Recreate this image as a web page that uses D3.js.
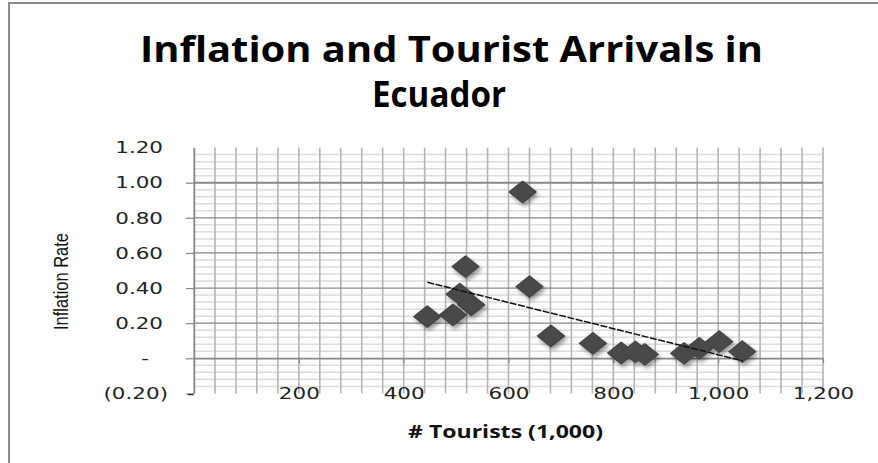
<!DOCTYPE html>
<html>
<head>
<meta charset="utf-8">
<script src="https://cdn.jsdelivr.net/npm/d3@7"></script>
<style>
  html, body { margin: 0; padding: 0; background: #fff; }
  svg { display: block; }
</style>
</head>
<body>
<svg id="chart" width="878" height="463"></svg>
<script>
// Tourist arrivals (thousands) and inflation rate, one pair per year
const tourists  = [445, 494, 507, 518, 529, 627, 640, 681, 761, 815, 842, 860, 935, 964, 1002, 1046];
const inflation = [0.237, 0.247, 0.365, 0.522, 0.304, 0.947, 0.408, 0.127, 0.085, 0.030, 0.036, 0.022, 0.028, 0.057, 0.095, 0.038];

const xTicks = [0, 200, 400, 600, 800, 1000, 1200];
const yTicks = [-0.2, 0, 0.2, 0.4, 0.6, 0.8, 1.0, 1.2];
const xMinorStep = 40;
const yMinorStep = 0.04;

const titleLines = ["Inflation and Tourist Arrivals in", "Ecuador"];
const xTitle = "# Tourists (1,000)";
const yTitle = "Inflation Rate";

const svg = d3.select("#chart");

const x = d3.scaleLinear().domain([0, 1200]).range([194, 823]);
const y = d3.scaleLinear().domain([-0.2, 1.2]).range([393.4, 147.6]);

// accounting-style number formats: zero as a dash, negatives in parentheses
const fmtY = v => Math.abs(v) < 1e-9 ? "-" : (v < 0 ? "(" + d3.format(".2f")(-v) + ")" : d3.format(".2f")(v));
const fmtX = v => v === 0 ? "-" : d3.format(",")(v);

// stretch a text element horizontally by a factor, keeping its anchor
function stretch(sel, k) {
  sel.each(function () {
    const w = this.getComputedTextLength();
    d3.select(this).attr("textLength", w * k).attr("lengthAdjust", "spacingAndGlyphs");
  });
}

// outer chart frame
svg.append("path")
  .attr("d", "M9,463V3H878")
  .attr("fill", "none").attr("stroke", "#8c8c8c").attr("stroke-width", 2);

const defs = svg.append("defs");
const shadow = defs.append("filter").attr("id", "shadow")
  .attr("x", "-50%").attr("y", "-50%").attr("width", "200%").attr("height", "200%");
shadow.append("feDropShadow").attr("dx", 2).attr("dy", 3)
  .attr("stdDeviation", 2).attr("flood-color", "#000").attr("flood-opacity", 0.4);

// title
const title = svg.append("g")
  .attr("font-family", "'Open Sans', 'Liberation Sans', sans-serif")
  .attr("font-weight", "bold").attr("font-size", 36).attr("fill", "#000");
title.append("text").attr("x", 140).attr("y", 62).text(titleLines[0])
  .attr("textLength", 623).attr("lengthAdjust", "spacingAndGlyphs");
title.append("text").attr("x", 372).attr("y", 107).text(titleLines[1])
  .attr("textLength", 134).attr("lengthAdjust", "spacingAndGlyphs");

// gridlines (the outermost value lines are left undrawn)
const grid = svg.append("g");
const yr = y.range();
const minorY = d3.range(-0.2, 1.2001, yMinorStep)
  .filter(v => Math.abs(v / 0.2 - Math.round(v / 0.2)) > 1e-6);
grid.selectAll("line.hminor").data(minorY).join("line")
  .attr("x1", x(0)).attr("x2", x(1200))
  .attr("y1", d => y(d)).attr("y2", d => y(d))
  .attr("stroke", "#dcdcdc").attr("stroke-width", 1.5);
grid.selectAll("line.vminor").data(d3.range(0, 1201, xMinorStep)).join("line")
  .attr("x1", d => x(d)).attr("x2", d => x(d))
  .attr("y1", yr[1]).attr("y2", yr[0])
  .attr("stroke", "#b4b4b4").attr("stroke-width", 1.6);
grid.selectAll("line.hmajor").data(yTicks.slice(1, -1)).join("line")
  .attr("x1", x(0)).attr("x2", x(1200))
  .attr("y1", d => y(d)).attr("y2", d => y(d))
  .attr("stroke", "#888").attr("stroke-width", d => d === 1.0 ? 2 : 1.2);

const tickFont = "'DejaVu Sans', Verdana, sans-serif";

// vertical axis
const yAxis = svg.append("g")
  .attr("transform", `translate(${x(0)},0)`)
  .call(d3.axisLeft(y).tickValues(yTicks).tickFormat(fmtY).tickSize(8).tickSizeOuter(0).tickPadding(23));
yAxis.select(".domain").attr("stroke", "#888").attr("stroke-width", 1.5);
yAxis.selectAll(".tick line").attr("stroke", "#888").attr("stroke-width", 1.2)
  .attr("display", d => d === 1.2 ? "none" : null);
yAxis.selectAll(".tick text")
  .attr("font-family", tickFont).attr("font-size", 16.5).attr("fill", "#222")
  .attr("dx", d => d < 0 ? 5 : (Math.abs(d) < 1e-9 ? -14 : 0))
  .call(stretch, 1.3);

// horizontal axis crossing at zero, labels set low beneath the plot
const xAxis = svg.append("g")
  .attr("transform", `translate(0,${y(0)})`)
  .call(d3.axisBottom(x).tickValues(xTicks).tickFormat(fmtX).tickSize(5).tickSizeOuter(0));
xAxis.select(".domain").attr("stroke", "#888").attr("stroke-width", 1.5);
xAxis.selectAll(".tick line").attr("stroke", "#888").attr("stroke-width", 1.2);
xAxis.selectAll(".tick text")
  .attr("font-family", tickFont).attr("font-size", 16.5).attr("fill", "#222")
  .attr("y", y(-0.2) - y(0)).attr("dy", "0.36em")
  .attr("dx", d => d === 0 ? -4 : 0)
  .call(stretch, 1.3);
svg.selectAll(".domain").attr("fill", "none");

// axis titles
svg.append("text")
  .attr("x", 408).attr("y", 438)
  .attr("font-family", "'Open Sans', 'Liberation Sans', sans-serif")
  .attr("font-weight", "bold").attr("font-size", 17).attr("fill", "#111")
  .attr("textLength", 195).attr("lengthAdjust", "spacingAndGlyphs")
  .text(xTitle);

svg.append("text")
  .attr("transform", "translate(68,281.5) scale(1.3,1) rotate(-90)")
  .attr("text-anchor", "middle")
  .attr("font-family", "'Liberation Sans Narrow', 'Liberation Sans', sans-serif")
  .attr("font-size", 15.5).attr("fill", "#111")
  .attr("textLength", 97).attr("lengthAdjust", "spacingAndGlyphs")
  .text(yTitle);

// data points as diamonds
const pts = tourists.map((t, i) => ({ t, r: inflation[i] }));
const diamond = d3.symbol(d3.symbolSquare, 230)();
svg.append("g").attr("filter", "url(#shadow)")
  .selectAll("path").data(pts).join("path")
  .attr("d", diamond)
  .attr("transform", d => `translate(${x(d.t)},${y(d.r)}) scale(1.25,1) rotate(45)`)
  .attr("fill", "#4a4a4a").attr("stroke", "#444").attr("stroke-width", 1.2)
  .attr("stroke-linejoin", "round");

// least-squares linear trendline over the data range
const mx = d3.mean(tourists), my = d3.mean(inflation);
const sxy = d3.sum(tourists, (t, i) => (t - mx) * (inflation[i] - my));
const sxx = d3.sum(tourists, t => (t - mx) ** 2);
const slope = sxy / sxx, intercept = my - slope * mx;
const ext = d3.extent(tourists);
svg.append("path")
  .datum(ext.map(t => [t, intercept + slope * t]))
  .attr("d", d3.line().x(d => x(d[0])).y(d => y(d[1])))
  .attr("fill", "none").attr("stroke", "#111").attr("stroke-width", 1.5)
  .attr("stroke-dasharray", "7,1.5");
</script>
</body>
</html>
